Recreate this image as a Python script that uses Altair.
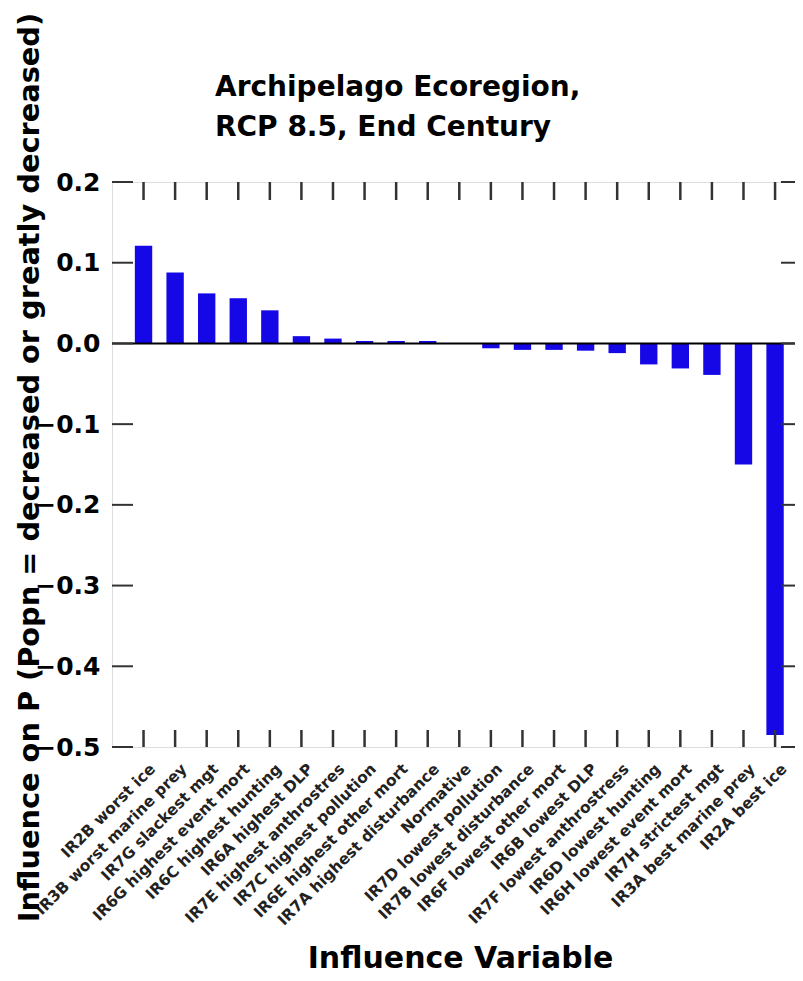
import altair as alt
import pandas as pd

categories = [
    "IR2B worst ice", "IR3B worst marine prey", "IR7G slackest mgt",
    "IR6G highest event mort", "IR6C highest hunting", "IR6A highest DLP",
    "IR7E highest anthrostres", "IR7C highest pollution", "IR6E highest other mort",
    "IR7A highest disturbance", "Normative", "IR7D lowest pollution",
    "IR7B lowest disturbance", "IR6F lowest other mort", "IR6B lowest DLP",
    "IR7F lowest anthrostress", "IR6D lowest hunting", "IR6H lowest event mort",
    "IR7H strictest mgt", "IR3A best marine prey", "IR2A best ice",
]
values = [0.121, 0.088, 0.062, 0.056, 0.041, 0.009, 0.006, 0.003, 0.003, 0.003,
          0.0, -0.006, -0.008, -0.008, -0.009, -0.012, -0.026, -0.031, -0.039,
          -0.150, -0.485]
y_ticks = [0.2, 0.1, 0.0, -0.1, -0.2, -0.3, -0.4, -0.5]

title_lines = ["Archipelago Ecoregion,", "RCP 8.5, End Century"]
x_title = "Influence Variable"
y_title = "Influence on P (Popn = decreased or greatly decreased)"

W, H = 683, 565
BLUE = "#1608e6"
FRAME = "#333333"
FONT = "DejaVu Sans"

df = pd.DataFrame({"cat": categories, "val": values})
df_ticks = pd.DataFrame({"val": y_ticks})

xscale = alt.Scale(paddingInner=0.45, paddingOuter=0.54, align=0.67)
yscale = alt.Scale(domain=[-0.5, 0.2], nice=False)

x_axis = alt.Axis(
    labelAngle=315, labelAlign="right", labelBaseline="middle",
    labelPadding=19, labelOffset=9, labelLimit=400,
    labelFont=FONT, labelFontSize=15.5, labelFontWeight="bold", labelColor="#222222",
    ticks=False, tickSize=0, domain=False, grid=False,
    titleFont=FONT, titleFontSize=30, titleFontWeight="bold", titleColor="black",
    titleX=348, titleY=220, titleAlign="center", titleBaseline="alphabetic",
)
y_axis = alt.Axis(
    values=y_ticks, format=".1f", ticks=False, tickSize=0, domain=False, grid=False,
    labelFont=FONT, labelFontSize=25, labelFontWeight="bold", labelColor="black",
    labelPadding=12, labelBaseline="middle",
    titleFont=FONT, titleFontSize=28.8, titleFontWeight="bold", titleColor="black",
    titleAngle=270, titleX=-74, titleY=285, titleAlign="center",
    titleBaseline="alphabetic",
)


def xe():
    return alt.X("cat:N", sort=categories, scale=xscale, title=x_title, axis=x_axis)


def ye():
    return alt.Y("val:Q", scale=yscale, title=y_title, axis=y_axis)


bars = alt.Chart(df).mark_bar(color=BLUE).encode(x=xe(), y=ye())

zero_line = alt.Chart(df_ticks).transform_filter(alt.datum.val == 0).mark_rule(
    color="black", strokeWidth=2
).encode(y=ye())

top_ticks = alt.Chart(df).mark_rule(color=FRAME, strokeWidth=2.5).encode(
    x=xe(), y=alt.value(0), y2=alt.value(18),
)
bottom_ticks = alt.Chart(df).mark_rule(color=FRAME, strokeWidth=2.5).encode(
    x=xe(), y=alt.value(H - 17), y2=alt.value(H),
)
left_ticks = alt.Chart(df_ticks).mark_rule(color=FRAME, strokeWidth=2).encode(
    y=ye(), x=alt.value(0), x2=alt.value(21),
)
right_ticks = alt.Chart(df_ticks).mark_rule(color=FRAME, strokeWidth=2).encode(
    y=ye(), x=alt.value(W - 14), x2=alt.value(W),
)

chart = alt.layer(bars, zero_line, top_ticks, bottom_ticks, left_ticks, right_ticks).properties(
    width=W, height=H,
    autosize=alt.AutoSizeParams(type="none"),
    padding={"left": 104, "top": 174, "right": 0, "bottom": 226},
    title=alt.TitleParams(
        text=title_lines, anchor="start", frame="group", dx=103, offset=0, dy=152,
        font=FONT, fontSize=28, fontWeight="bold", color="black", lineHeight=40,
        baseline="alphabetic",
    ),
).configure_view(stroke=FRAME, strokeWidth=2).configure(background="white")

chart.save("out.html", embed_options={"renderer": "svg", "actions": False})
